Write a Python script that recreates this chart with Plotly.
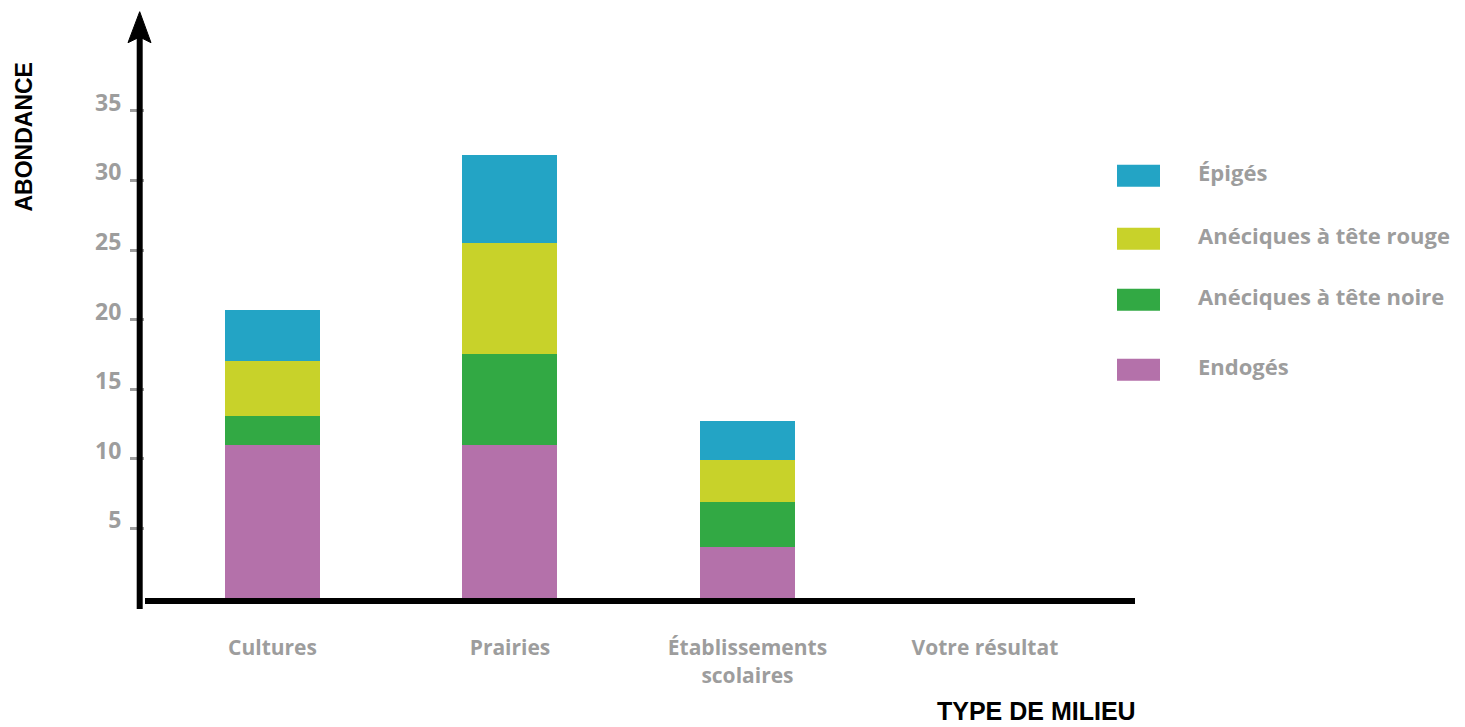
import plotly.graph_objects as go

milieux = ["Cultures", "Prairies", "Établissements<br>scolaires", "Votre résultat"]

# valeurs empilées, de bas en haut
endoges = [11.0, 11.0, 3.7, None]
aneciques_noire = [2.1, 6.5, 3.2, None]
aneciques_rouge = [3.9, 8.0, 3.0, None]
epiges = [3.7, 6.3, 2.8, None]

series = [
    ("Endogés", endoges, "#b471aa"),
    ("Anéciques à tête noire", aneciques_noire, "#32a944"),
    ("Anéciques à tête rouge", aneciques_rouge, "#c8d22a"),
    ("Épigés", epiges, "#23a4c5"),
]

y_ticks = [5, 10, 15, 20, 25, 30, 35]

GREY = "#9d9d9d"
TXT_FONT = "Open Sans"
TITLE_FONT = "Liberation Sans Narrow, Liberation Sans, Arial"

# la page ajoute une marge de 8 px autour du graphique
fig = go.Figure()
for name, vals, color in series:
    fig.add_trace(go.Bar(x=milieux, y=vals, name=name, marker_color=color,
                         marker_line_width=0, width=0.4, showlegend=False))

fig.update_layout(barmode="stack", width=1457, height=719,
                  margin=dict(l=137, r=330, t=4, b=129),
                  paper_bgcolor="white", plot_bgcolor="white")
fig.update_xaxes(range=[-0.537, 3.632], showline=True, linewidth=6, linecolor="black",
                 showgrid=False, zeroline=False, ticks="",
                 tickfont=dict(family=TXT_FONT, size=21, color=GREY, weight="bold"),
                 ticklabelstandoff=26)
fig.update_yaxes(range=[0, 42.1], showline=False, showgrid=False, zeroline=False,
                 tickvals=y_ticks, ticks="outside", ticklen=14, tickwidth=3, tickcolor=GREY,
                 tickfont=dict(family=TXT_FONT, size=23, color=GREY, weight="bold"),
                 ticklabelshift=-8, ticklabelstandoff=4)

# axe vertical avec flèche
fig.add_shape(type="line", xref="paper", yref="paper", xsizemode="pixel", ysizemode="pixel",
              xanchor=0, yanchor=1, x0=-5.3, x1=-5.3, y0=-597, y1=-22,
              line=dict(color="black", width=6))
fig.add_shape(type="path", xref="paper", yref="paper", xsizemode="pixel", ysizemode="pixel",
              xanchor=0, yanchor=1,
              path="M -5.3 0.3 L 6 -30.7 L -5.3 -25 L -17 -30.7 Z",
              fillcolor="black", line=dict(color="black", width=1))

# titres des axes
fig.add_annotation(text="ABONDANCE", xref="paper", yref="paper", x=-0.1225, y=0.787,
                   showarrow=False, textangle=-90, xanchor="center", yanchor="middle",
                   font=dict(family=TITLE_FONT, size=23, color="black", weight="bold"))
fig.add_annotation(text="TYPE DE MILIEU", xref="paper", yref="paper", x=1.003, y=-0.193,
                   showarrow=False, xanchor="right", yanchor="middle",
                   font=dict(family=TITLE_FONT, size=25, color="black", weight="bold"))

# légende
legend_rows = [176, 239, 300, 370]  # centres en pixels depuis le haut de la page
for (name, vals, color), py in zip(reversed(series), legend_rows):
    yp = (598.3 - py) / 586
    fig.add_shape(type="rect", xref="paper", yref="paper", xsizemode="pixel", ysizemode="pixel",
                  xanchor=1.0, yanchor=yp, x0=-18, x1=25, y0=-11, y1=11,
                  fillcolor=color, line_width=0)
    fig.add_annotation(text=name, xref="paper", yref="paper", x=(1196 - 145) / 990, y=yp + 0.007,
                       showarrow=False, xanchor="left", yanchor="middle",
                       font=dict(family=TXT_FONT, size=22, color=GREY, weight="bold"))

fig.write_html("out.html")
